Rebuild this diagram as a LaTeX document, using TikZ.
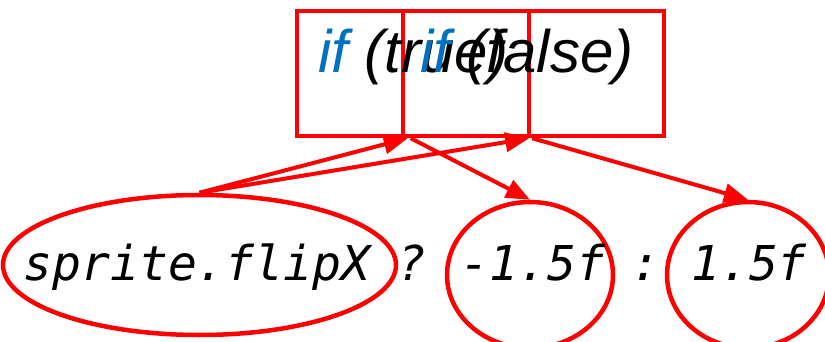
\documentclass[tikz,border=0pt]{standalone}
\usepackage{fontspec}
\setmainfont{Liberation Sans}
\newfontfamily\codefont{DejaVu Sans Mono}
\usetikzlibrary{arrows.meta,shapes.geometric}
\definecolor{MarkRed}{HTML}{FF0000}
\definecolor{KeyBlue}{HTML}{0070C0}
\tikzset{>={Triangle[length=24pt,width=19pt]},
 condbox/.style={draw=MarkRed,line width=4.5pt,minimum height=125pt,inner sep=0pt},
 ring/.style={ellipse,draw=MarkRed,line width=4.5pt,inner sep=0pt},
 code/.style={anchor=base,inner sep=0pt,font=\fontsize{48}{52}\selectfont\codefont\itshape},
 cond/.style={anchor=base west,inner sep=0pt,font=\fontsize{60}{64}\selectfont\itshape},
 link/.style={draw=MarkRed,line width=4pt,->}}

\begin{document}
\begin{tikzpicture}[x=1pt,y=-1pt]
\useasboundingbox (0,0) rectangle (825,342);
\node[condbox,minimum width=232pt] (ifTrue) at (413,73.5) {};
\node[condbox,minimum width=261pt] (ifFalse) at (533.5,73.5) {};
\node[cond] (trueText) at (318,73) {\textcolor{KeyBlue}{if} (true)};
\node[cond] (falseText) at (420,73) {\textcolor{KeyBlue}{if} (false)};
\node[ring,minimum width=393pt,minimum height=140pt] (spriteRing) at (199.5,265) {};
\node[ring,minimum width=166pt,minimum height=146pt] (negRing) at (530,275) {};
\node[ring,minimum width=162pt,minimum height=146pt] (posRing) at (748,275) {};
\node[code] (sprite) at (197,280) {sprite.flipX};
\node[code] (qmark) at (412,280) {?};
\node[code] (negVal) at (533,280) {-1.5f};
\node[code] (colon) at (646,280) {:};
\node[code] (posVal) at (749,280) {1.5f};
\draw[link] (spriteRing.north) -- ([xshift=7pt]ifFalse.south west);
\draw[link] (spriteRing.north) -- ([xshift=-2pt]ifTrue.south east);
\draw[link] ([xshift=10pt]ifFalse.south west) -- (negRing.north);
\draw[link] ([xshift=1pt]ifTrue.south east) -- (posRing.north);
\end{tikzpicture}
\end{document}
